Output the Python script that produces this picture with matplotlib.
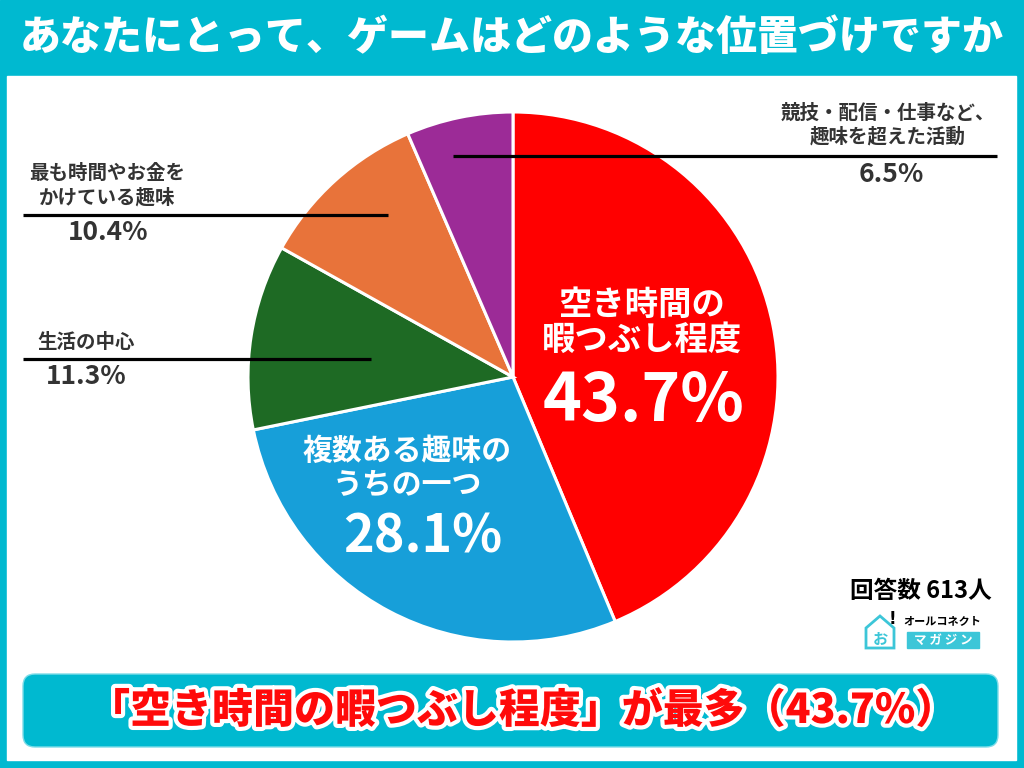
import matplotlib
matplotlib.use("Agg")
import matplotlib.pyplot as plt
from matplotlib.patches import Rectangle, FancyBboxPatch, Polygon
import matplotlib.patheffects as pe

plt.rcParams['font.family'] = ['Noto Sans CJK JP', 'DejaVu Sans']

# ---- data ----
title = "あなたにとって、ゲームはどのような位置づけですか"
categories = ["空き時間の暇つぶし程度", "複数ある趣味のうちの一つ", "生活の中心",
              "最も時間やお金をかけている趣味", "競技・配信・仕事など、趣味を超えた活動"]
values = [43.7, 28.1, 11.3, 10.4, 6.5]
colors = ["#ff0000", "#179fd9", "#1e6a24", "#e8733a", "#9c2b97"]
respondents = "回答数 613人"
headline = "「空き時間の暇つぶし程度」が最多（43.7%）"

TEAL = "#00b9d0"
DARK = "#333333"

fig = plt.figure(figsize=(10.24, 7.68), dpi=100)

# background layer
bg = fig.add_axes([0, 0, 1, 1], zorder=0)
bg.set_xlim(0, 1024); bg.set_ylim(768, 0); bg.axis("off")
bg.add_patch(Rectangle((0, 0), 1024, 768, color=TEAL))
bg.add_patch(Rectangle((7, 76), 1009, 684, color="white"))

# pie layer
cx, cy, r = 513, 377, 265
pax = fig.add_axes([(cx - r) / 1024, (768 - cy - r) / 768, 2 * r / 1024, 2 * r / 768], zorder=1)
pax.pie(values, colors=colors, startangle=90, counterclock=False,
        wedgeprops=dict(edgecolor="white", linewidth=2.2))
pax.set_xlim(-1, 1); pax.set_ylim(-1, 1)
pax.axis("off")

# top overlay
ov = fig.add_axes([0, 0, 1, 1], zorder=2)
ov.set_xlim(0, 1024); ov.set_ylim(768, 0); ov.axis("off")
ov.patch.set_alpha(0)

# title
ov.text(512, 38, title, color="white", fontsize=29.5, fontweight="heavy",
        ha="center", va="center")

# inside labels
ov.text(642, 323, "空き時間の\n暇つぶし程度", color="white", fontsize=24, fontweight="bold",
        ha="center", va="center", linespacing=1.1)
ov.text(644, 401, f"{values[0]}%", color="white", fontsize=47.5, fontweight="bold",
        ha="center", va="center")
ov.text(407, 468, "複数ある趣味の\nうちの一つ", color="white", fontsize=21.5, fontweight="bold",
        ha="center", va="center", linespacing=1.15)
ov.text(423, 537, f"{values[1]}%", color="white", fontsize=37.5, fontweight="bold",
        ha="center", va="center")

# outside labels with leader lines
lw = 2.3
ov.plot([23, 388], [215, 215], color="black", lw=lw, solid_capstyle="butt")
ov.text(107, 186, "最も時間やお金を\nかけている趣味", color=DARK, fontsize=14, fontweight="bold",
        ha="center", va="center", linespacing=1.3)
ov.text(108, 233, f"{values[3]}%", color=DARK, fontsize=19, fontweight="bold",
        ha="center", va="center")

ov.plot([23, 371], [359, 359], color="black", lw=lw, solid_capstyle="butt")
ov.text(86, 342, "生活の中心", color=DARK, fontsize=14, fontweight="bold",
        ha="center", va="center")
ov.text(86, 376, f"{values[2]}%", color=DARK, fontsize=19, fontweight="bold",
        ha="center", va="center")

ov.plot([453, 997], [156, 156], color="black", lw=lw, solid_capstyle="butt")
ov.text(888, 125, "競技・配信・仕事など、\n趣味を超えた活動", color=DARK, fontsize=14,
        fontweight="bold", ha="center", va="center", linespacing=1.3)
ov.text(891, 174, f"{values[4]}%", color=DARK, fontsize=19, fontweight="bold",
        ha="center", va="center")

# respondents
ov.text(921, 591, respondents, color="black", fontsize=17, fontweight="bold",
        ha="center", va="center")

# logo
house = Polygon([[866, 648], [866, 628], [880, 616], [894, 628], [894, 648]], closed=True,
                fill=False, edgecolor="#3cc6d8", lw=2)
ov.add_patch(house)
ov.text(880, 639, "お", color="#3cc6d8", fontsize=11, fontweight="bold", ha="center", va="center")
ov.text(892, 619, "!", color="black", fontsize=12, fontweight="heavy", ha="center", va="center",
        family="DejaVu Sans")
ov.text(942, 621, "オールコネクト", color="black", fontsize=8, fontweight="bold",
        ha="center", va="center")
ov.add_patch(Rectangle((907, 632), 72, 16, color="#3cc6d8"))
ov.text(943, 640, "マ ガ ジ ン", color="white", fontsize=9, fontweight="bold",
        ha="center", va="center")

# bottom banner
ov.add_patch(FancyBboxPatch((23, 674), 975, 73, boxstyle="round,pad=0,rounding_size=12",
                            facecolor=TEAL, edgecolor="#7fdce8", lw=1))
ov.text(523, 711, headline, color="#ff0a0a", fontsize=29.5, fontweight="heavy",
        ha="center", va="center",
        path_effects=[pe.withStroke(linewidth=6, foreground="white")])

fig.savefig("out.png", dpi=100)
